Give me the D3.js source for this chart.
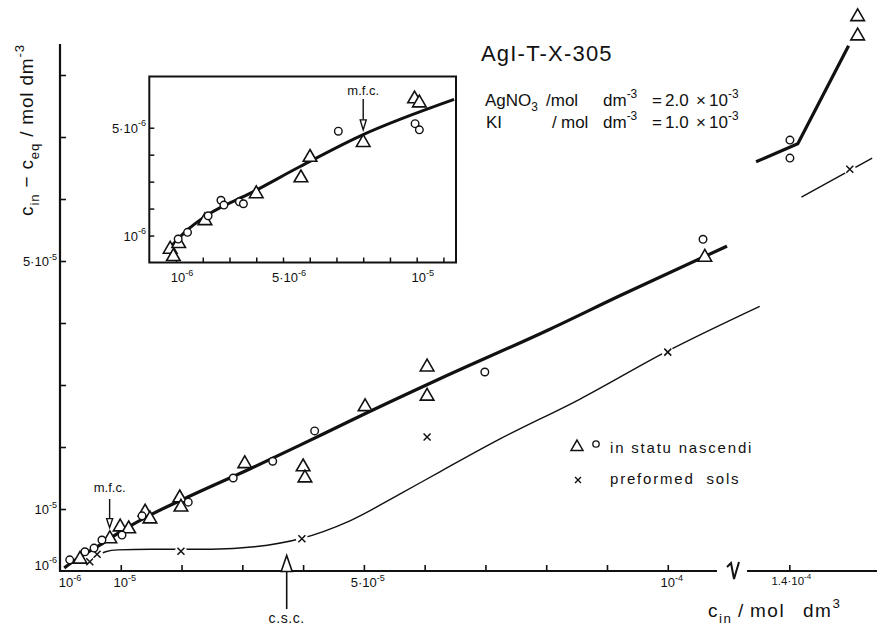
<!DOCTYPE html>
<html lang="en">
<head>
<meta charset="utf-8">
<title>AgI-T-X-305</title>
<script src="https://d3js.org/d3.v7.min.js"></script>
<style>
body { margin: 0; background: #fff; }
svg text { font-family: "Liberation Sans", Arial, sans-serif; fill: #111; white-space: pre; }
</style>
</head>
<body>
<script>
// main plot values in 1e-5 mol dm^-3, inset values in 1e-6 mol dm^-3

// in statu nascendi (main)
var nascLine = [[0.07,0.05],[0.33,0.23],[0.66,0.42],[0.99,0.63],[1.48,0.90],[2.14,1.21],[3.13,1.65],[3.95,2.03],[4.77,2.42],[6.25,3.10],[8.06,3.90],[9.21,4.44],[11.64,5.24]]
var nascLineHi = [[13.45,6.60],[14.14,6.89],[14.98,8.47]]
var nascTri = [[0.33,0.19],[0.82,0.52],[0.99,0.71],[1.13,0.68],[1.40,0.95],[1.48,0.84],[1.97,1.18],[1.99,1.03],[3.04,1.73],[4.00,1.68],[4.03,1.50],[5.02,2.65],[6.04,3.29],[6.04,2.82],[10.61,5.06],[15.13,8.94],[15.13,8.63]]
var nascCirc = [[0.16,0.18],[0.41,0.31],[0.56,0.37],[0.69,0.50],[1.02,0.58],[1.35,0.89],[2.11,1.11],[2.85,1.50],[3.50,1.77],[4.19,2.26],[6.99,3.21],[10.58,5.35],[14.01,6.95],[14.01,6.66]]

// preformed sols (main)
var prefLine = [[0.62,0.26],[0.75,0.31],[0.95,0.34],[1.5,0.35],[2.5,0.35],[3.2,0.39],[3.95,0.52],[4.77,0.81],[5.59,1.24],[6.25,1.60],[7.24,2.13],[8.55,2.77],[10.0,3.55],[13.51,4.27]]
var prefLineHi = [[14.2,6.03],[15.37,6.66]]
var prefX = [[0.49,0.15],[0.61,0.27],[1.99,0.32],[3.98,0.52],[6.04,2.16],[10.0,3.53],[15.0,6.48]]

// inset (1e-6 units)
var insetLine = [[0.62,0.38],[1.3,1.1],[2.2,1.78],[3.8,2.58],[5.64,3.56],[7.88,4.69],[11.4,6.05]]
var insetTri = [[0.78,0.49],[0.9,0.22],[1.1,0.70],[2.08,1.55],[4.0,2.55],[5.67,3.14],[6.01,3.90],[8.0,4.45],[9.92,6.07],[10.1,5.92]]
var insetCirc = [[1.08,0.87],[1.43,1.12],[2.2,1.73],[2.68,2.31],[2.79,2.13],[3.37,2.25],[3.52,2.18],[7.07,4.87],[9.94,5.15],[10.1,4.92]]

// ticks and labels
var xTicks = [1,2,3,4,5,6,7,8,9,10,14]
var yTicks = [1,2,3,4,5,6,7,8]
var xLabels = [[0.1,"10","-6"],[1,"10","-5"],[5,"5·10","-5"],[10,"10","-4"]]
var xLabelHi = [14,"1.4·10","-4"]
var yLabels = [[0.1,"10","-6"],[1,"10","-5"],[5,"5·10","-5"]]
var ixTicks = [1,2,3,4,5,6,7,8,9,10,11]
var iyTicks = [1,2,3,4,5]
var ixLabels = [[1,"10","-6"],[5,"5·10","-6"],[10,"10","-5"]]
var iyLabels = [[1,"10","-6"],[5,"5·10","-6"]]

var xBreak = [10.81, 13.3]
var mfc = 0.8, csc = 3.73

var W = 879, H = 627
var svg = d3.select("body").append("svg").attr("width", W).attr("height", H)

var x = d3.scaleLinear().domain([0, xBreak[0], xBreak[1], 15.45]).range([60, 717, 747, 877])
var y = d3.scaleLinear().domain([0, 8.5]).range([571, 44])
var ix = d3.scaleLinear().domain([0, 11.47]).range([149.3, 456])
var iy = d3.scaleLinear().domain([0, 6.9]).range([262.5, 76.5])

// text with sub/superscripts: parts = [text, kind(0 base, 1 sup, -1 sub), optional x]
function rich(g, px, py, parts, size, anchor) {
    var t = g.append("text").attr("x", px).attr("y", py).attr("font-size", size).attr("text-anchor", anchor || "start")
    var cur = 0
    parts.forEach(function(p) {
        var shift = p[1] == 1 ? -0.5*size : (p[1] == -1 ? 0.3*size : 0)
        var s = t.append("tspan").attr("dy", shift - cur).text(p[0])
        if (p[1]) s.attr("font-size", size*0.7)
        if (p[2] != null) s.attr("x", p[2])
        cur = shift
    })
    return t
}

function tri(g, data, sx, sy, size) {
    g.selectAll(null).data(data).enter().append("path")
        .attr("d", d3.symbol().type(d3.symbolTriangle).size(size))
        .attr("transform", function(d) { return "translate(" + sx(d[0]) + "," + sy(d[1]) + ")" })
        .attr("fill", "#fff").attr("stroke", "#111").attr("stroke-width", 1.6)
}
function circ(g, data, sx, sy, r) {
    g.selectAll(null).data(data).enter().append("circle")
        .attr("cx", function(d) { return sx(d[0]) }).attr("cy", function(d) { return sy(d[1]) }).attr("r", r)
        .attr("fill", "#fff").attr("stroke", "#111").attr("stroke-width", 1.4)
}
function cross(g, data, sx, sy, s) {
    var m = g.selectAll(null).data(data).enter().append("g")
        .attr("transform", function(d) { return "translate(" + sx(d[0]) + "," + sy(d[1]) + ")" })
    m.append("circle").attr("r", s + 2.5).attr("fill", "#fff")
    m.append("path").attr("d", "M" + (-s) + "," + (-s) + "L" + s + "," + s + "M" + (-s) + "," + s + "L" + s + "," + (-s))
        .attr("stroke", "#111").attr("stroke-width", 1.5)
}
function arrow(g, px, yTail, yTip, len, hw, sw) {
    var dir = yTip > yTail ? 1 : -1
    var yBase = yTip - dir*len
    g.append("line").attr("x1", px).attr("x2", px).attr("y1", yTail).attr("y2", yBase).attr("stroke", "#111").attr("stroke-width", sw)
    g.append("path").attr("d", "M" + (px-hw) + "," + yBase + "L" + (px+hw) + "," + yBase + "L" + px + "," + yTip + "Z")
        .attr("fill", "#fff").attr("stroke", "#111").attr("stroke-width", sw)
}

// ---- main axes
var gx = svg.append("g").attr("transform", "translate(0," + y(0) + ")")
    .call(d3.axisBottom(x).tickValues(xTicks).tickSize(-6).tickFormat(""))
gx.select(".domain").remove()
gx.selectAll("line").attr("stroke", "#111").attr("stroke-width", 1.6)

var gy = svg.append("g").attr("transform", "translate(" + x(0) + ",0)")
    .call(d3.axisLeft(y).tickValues(yTicks).tickSize(-6).tickFormat(""))
gy.select(".domain").remove()
gy.selectAll("line").attr("stroke", "#111").attr("stroke-width", 1.6)

svg.append("line").attr("x1", x(0) - 1).attr("x2", x(xBreak[0])).attr("y1", y(0)).attr("y2", y(0)).attr("stroke", "#111").attr("stroke-width", 2.2)
svg.append("line").attr("x1", x(xBreak[1])).attr("x2", x(15.45)).attr("y1", y(0)).attr("y2", y(0)).attr("stroke", "#111").attr("stroke-width", 2.2)
svg.append("line").attr("x1", x(0)).attr("x2", x(0)).attr("y1", y(0) + 1).attr("y2", y(8.5)).attr("stroke", "#111").attr("stroke-width", 2.2)
// axis break mark
var bx = (x(xBreak[0]) + x(xBreak[1])) / 2 + 1, by = y(0)
svg.append("path").attr("d", "M" + (bx-6) + "," + (by-4) + "L" + (bx-2) + "," + (by-8) + "L" + (bx+1) + "," + (by+8) + "L" + (bx+6) + "," + (by-9))
    .attr("fill", "none").attr("stroke", "#111").attr("stroke-width", 2)

xLabels.forEach(function(d) { rich(svg, x(d[0]) + 4, 587, [[d[1],0],[d[2],1]], 13, "middle") })
rich(svg, x(xLabelHi[0]) + 2, 585, [[xLabelHi[1],0],[xLabelHi[2],1]], 11.5, "middle")
yLabels.forEach(function(d) { rich(svg, 57, y(d[0]) + 5, [[d[1],0],[d[2],1]], 13, "end") })

rich(svg, 0, 0, [["c",0],["in",-1],[" − c",0],["eq",-1],[" / mol dm",0],["-3",1]], 19, "middle")
    .attr("transform", "translate(33,130) rotate(-90)").attr("letter-spacing", 0.8)
rich(svg, 708, 617, [["c",0],["in",-1],["/",0,738],["mol",0,750],["dm",0,803],["3",1]], 19).attr("letter-spacing", 1.5)

// ---- main data
var line = d3.line().x(function(d) { return x(d[0]) }).y(function(d) { return y(d[1]) })
svg.append("path").datum(prefLine).attr("d", line.curve(d3.curveMonotoneX)).attr("fill", "none").attr("stroke", "#111").attr("stroke-width", 1.4)
svg.append("path").datum(prefLineHi).attr("d", line.curve(d3.curveLinear)).attr("fill", "none").attr("stroke", "#111").attr("stroke-width", 1.4)
svg.append("path").datum(nascLine).attr("d", line.curve(d3.curveMonotoneX)).attr("fill", "none").attr("stroke", "#111").attr("stroke-width", 3.2)
svg.append("path").datum(nascLineHi).attr("d", line.curve(d3.curveLinear)).attr("fill", "none").attr("stroke", "#111").attr("stroke-width", 3.2)

cross(svg, prefX, x, y, 3.5)
tri(svg, nascTri, x, y, 80)
circ(svg, nascCirc, x, y, 3.8)

// annotations
arrow(svg, x(mfc) + 1, 499, y(0.7), 9, 3, 1.4)
svg.append("text").attr("x", x(mfc) + 1).attr("y", 492).attr("font-size", 13).attr("text-anchor", "middle").text("m.f.c.")
arrow(svg, x(csc), 609, y(0.25), 16, 5.5, 1.6)
svg.append("text").attr("x", x(csc)).attr("y", 623).attr("font-size", 14).attr("letter-spacing", 0.6).attr("text-anchor", "middle").text("c.s.c.")

// legend
var lg = svg.append("g")
lg.append("path").attr("d", d3.symbol().type(d3.symbolTriangle).size(62)).attr("transform", "translate(577,447)")
    .attr("fill", "#fff").attr("stroke", "#111").attr("stroke-width", 1.5)
lg.append("circle").attr("cx", 596).attr("cy", 444).attr("r", 3.2).attr("fill", "#fff").attr("stroke", "#111").attr("stroke-width", 1.3)
lg.append("path").attr("d", "M575,477L581,483M575,483L581,477").attr("stroke", "#111").attr("stroke-width", 1.4)
lg.append("text").attr("x", 610).attr("y", 453).attr("font-size", 15).attr("letter-spacing", 1.8).text("in statu nascendi")
lg.append("text").attr("x", 610).attr("y", 484).attr("font-size", 15).attr("letter-spacing", 1.8).text("preformed  sols")

// title block
svg.append("text").attr("x", 481).attr("y", 61).attr("font-size", 22).attr("letter-spacing", 1.2).text("AgI-T-X-305")
rich(svg, 485, 106, [["AgNO",0],["3",-1],["/mol",0,546],["dm",0,603],["-3",1],["=",0,652],["2.0",0,665],["×",0,696],["10",0,709],["-3",1]], 17)
rich(svg, 486, 128, [["KI",0],["/",0,552],["mol",0,561],["dm",0,603],["-3",1],["=",0,652],["1.0",0,665],["×",0,696],["10",0,709],["-3",1]], 17)

// ---- inset
var ins = svg.append("g")
svg.append("clipPath").attr("id", "insClip").append("rect")
    .attr("x", ix(0)).attr("y", iy(6.9)).attr("width", ix(11.47) - ix(0)).attr("height", iy(0) - iy(6.9))
var gix = ins.append("g").attr("transform", "translate(0," + iy(0) + ")")
    .call(d3.axisBottom(ix).tickValues(ixTicks).tickSize(-5).tickFormat(""))
gix.select(".domain").remove()
gix.selectAll("line").attr("stroke", "#111").attr("stroke-width", 1.5)
var giy = ins.append("g").attr("transform", "translate(" + ix(0) + ",0)")
    .call(d3.axisLeft(iy).tickValues(iyTicks).tickSize(-5).tickFormat(""))
giy.select(".domain").remove()
giy.selectAll("line").attr("stroke", "#111").attr("stroke-width", 1.5)

var inner = ins.append("g").attr("clip-path", "url(#insClip)")
var iline = d3.line().x(function(d) { return ix(d[0]) }).y(function(d) { return iy(d[1]) }).curve(d3.curveMonotoneX)
inner.append("path").datum(insetLine).attr("d", iline).attr("fill", "none").attr("stroke", "#111").attr("stroke-width", 3)
tri(inner, insetTri, ix, iy, 80)
circ(inner, insetCirc, ix, iy, 3.8)

ins.append("rect").attr("x", ix(0)).attr("y", iy(6.9)).attr("width", ix(11.47) - ix(0)).attr("height", iy(0) - iy(6.9))
    .attr("fill", "none").attr("stroke", "#111").attr("stroke-width", 2)

arrow(ins, ix(8), 99, iy(4.92), 10, 3, 1.4)
ins.append("text").attr("x", ix(8)).attr("y", 95).attr("font-size", 13).attr("text-anchor", "middle").text("m.f.c.")

ixLabels.forEach(function(d) { rich(ins, ix(d[0]) + 6, 282, [[d[1],0],[d[2],1]], 13, "middle") })
iyLabels.forEach(function(d) { rich(ins, 146, iy(d[0]) + 5, [[d[1],0],[d[2],1]], 13, "end") })
</script>
</body>
</html>
